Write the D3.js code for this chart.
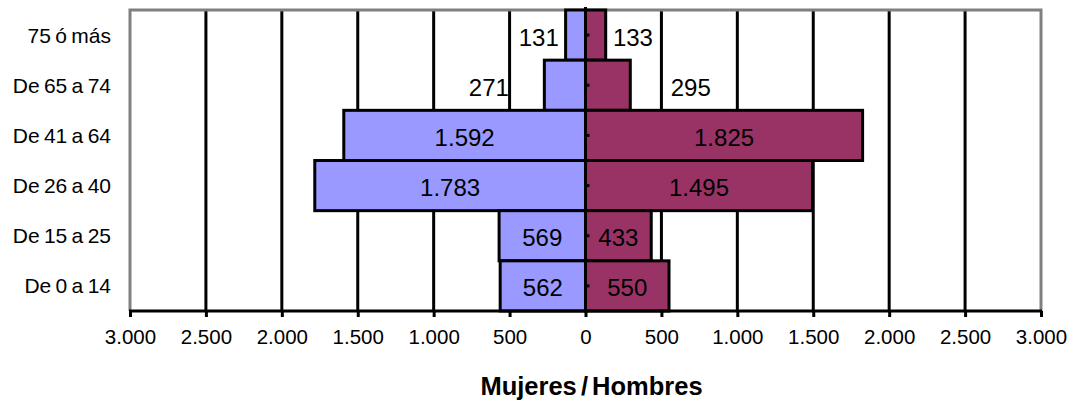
<!DOCTYPE html>
<html><head><meta charset="utf-8">
<script src="https://cdn.jsdelivr.net/npm/d3@7"></script>
<style>
body{margin:0;background:#fff;}
svg{display:block;font-family:"Liberation Sans",Arial,sans-serif;}
</style></head>
<body><svg id="c" width="1074" height="402"></svg>
<script>
const categories = ["75 ó más","De 65 a 74","De 41 a 64","De 26 a 40","De 15 a 25","De 0 a 14"];
const mujeres = [131, 271, 1592, 1783, 569, 562];
const hombres = [133, 295, 1825, 1495, 433, 550];
const tickValues = [-3000,-2500,-2000,-1500,-1000,-500,0,500,1000,1500,2000,2500,3000];
const axisTitle = "Mujeres / Hombres";

const loc = d3.formatLocale({decimal:",", thousands:".", grouping:[3], currency:["",""]});
const fmt = loc.format(",d");

const svg = d3.select("#c");
const L = 130, R = 1041, T = 10, B = 311;
const x = d3.scaleLinear().domain([-3000,3000]).range([L,R]);
const y = d3.scaleBand().domain(categories).range([T,B]).padding(0);

// gridlines
svg.append("g").selectAll("line").data(tickValues.filter(v=>v!==0 && Math.abs(v)!==3000))
  .join("line").attr("x1",d=>x(d)).attr("x2",d=>x(d)).attr("y1",T).attr("y2",B)
  .attr("stroke","#000").attr("stroke-width",3);

// frame (gray)
svg.append("path").attr("d",`M${L},${B}V${T}H${R}V${B}`).attr("fill","none")
  .attr("stroke","#808080").attr("stroke-width",3);

const rows = categories.map((c,i)=>({c, w:mujeres[i], h:hombres[i]}));

// bars
svg.append("g").selectAll("rect").data(rows).join("rect")
  .attr("x",d=>x(-d.w)).attr("width",d=>x(0)-x(-d.w))
  .attr("y",d=>y(d.c)).attr("height",y.bandwidth())
  .attr("fill","#9999FF").attr("stroke","#000").attr("stroke-width",3);
svg.append("g").selectAll("rect").data(rows).join("rect")
  .attr("x",x(0)).attr("width",d=>x(d.h)-x(0))
  .attr("y",d=>y(d.c)).attr("height",y.bandwidth())
  .attr("fill","#993366").attr("stroke","#000").attr("stroke-width",3);

// zero axis
svg.append("line").attr("x1",x(0)).attr("x2",x(0)).attr("y1",T-3).attr("y2",B)
  .attr("stroke","#000").attr("stroke-width",3);
// category tick marks on zero axis
svg.append("g").selectAll("line").data(categories).join("line")
  .attr("x1",x(0)).attr("x2",x(0)+4)
  .attr("y1",d=>y(d)+y.bandwidth()/2).attr("y2",d=>y(d)+y.bandwidth()/2)
  .attr("stroke","#000").attr("stroke-width",3);

// bottom axis
const ax = svg.append("g").attr("transform",`translate(0,${B})`)
  .call(d3.axisBottom(x).tickValues(tickValues).tickSize(6).tickPadding(12)
    .tickFormat(d=>fmt(Math.abs(d))));
ax.select(".domain").remove();
ax.selectAll(".tick line").attr("stroke","#000").attr("stroke-width",3);
ax.selectAll(".tick text").attr("font-size","20.5px").attr("fill","#000")
  .attr("font-family","'Liberation Sans',Arial,sans-serif");
svg.append("line").attr("x1",L-1).attr("x2",R+1).attr("y1",B).attr("y2",B)
  .attr("stroke","#000").attr("stroke-width",3);

// category labels
svg.append("g").selectAll("text").data(categories).join("text")
  .attr("x",111).attr("y",d=>y(d)+y.bandwidth()/2)
  .attr("text-anchor","end").attr("dominant-baseline","central")
  .attr("font-size","21px").attr("word-spacing","-1.5px").attr("fill","#000").text(d=>d);

// data labels
function labelPos(v, sign){
  return v < 400 ? x(sign*v*2.35) : (x(0)+x(sign*v))/2;
}
svg.append("g").selectAll("text").data(rows).join("text")
  .attr("x",d=>labelPos(d.w,-1)).attr("y",d=>y(d.c)+y.bandwidth()/2+2)
  .attr("text-anchor","middle").attr("dominant-baseline","central")
  .attr("font-size","24px").attr("fill","#000").text(d=>fmt(d.w));
svg.append("g").selectAll("text").data(rows).join("text")
  .attr("x",d=>labelPos(d.h,1)).attr("y",d=>y(d.c)+y.bandwidth()/2+2)
  .attr("text-anchor","middle").attr("dominant-baseline","central")
  .attr("font-size","24px").attr("fill","#000").text(d=>fmt(d.h));

// axis title
svg.append("text").attr("x",x(0)+6).attr("y",386).attr("text-anchor","middle")
  .attr("dominant-baseline","central").attr("font-size","25.5px").attr("font-weight","bold")
  .attr("word-spacing","-3px").attr("fill","#000").text(axisTitle);
</script></body></html>
